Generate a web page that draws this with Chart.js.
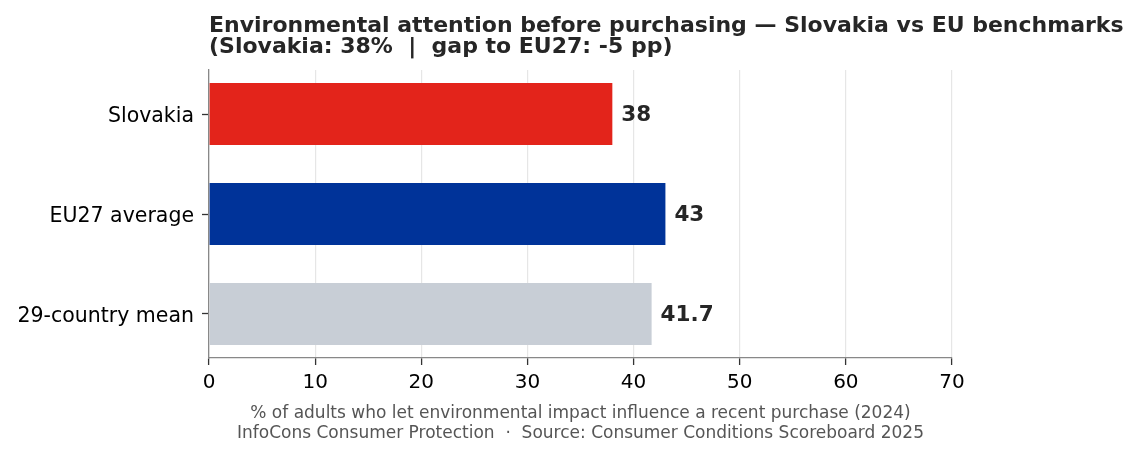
<!DOCTYPE html>
<html>
<head>
<meta charset="utf-8">
<script src="https://cdn.jsdelivr.net/npm/chart.js@4.4.1/dist/chart.umd.min.js"></script>
<style>
html,body{margin:0;padding:0;background:#fff;}
#wrap{width:1136px;height:456px;position:relative;}
</style>
</head>
<body>
<div id="wrap"><canvas id="c"></canvas></div>
<script>
const categories = ["Slovakia", "EU27 average", "29-country mean"];
const values = [38, 43, 41.7];
const barColors = ["#e3241b", "#003399", "#c8ced6"];
const xTicks = [0, 10, 20, 30, 40, 50, 60, 70];
const titleLines = [
  "Environmental attention before purchasing \u2014 Slovakia vs EU benchmarks",
  "(Slovakia: 38%  |  gap to EU27: -5 pp)"
];
const xAxisTitle = [
  "% of adults who let environmental impact influence a recent purchase (2024)",
  "InfoCons Consumer Protection  \u00b7  Source: Consumer Conditions Scoreboard 2025"
];

const FONT = "'DejaVu Sans', sans-serif";

const labelPlugin = {
  id: 'labels',
  afterDatasetsDraw(chart) {
    const ctx = chart.ctx;
    const meta = chart.getDatasetMeta(0);
    ctx.save();
    ctx.font = "bold 21.5px " + FONT;
    ctx.fillStyle = "#262626";
    ctx.textAlign = "left";
    ctx.textBaseline = "middle";
    meta.data.forEach((bar, i) => {
      ctx.fillText(String(values[i]), bar.x + 9, bar.y + 1);
    });
    ctx.restore();
  },
  afterDraw(chart) {
    const ctx = chart.ctx;
    ctx.save();
    ctx.font = "bold 22px " + FONT;
    ctx.fillStyle = "#262626";
    ctx.textAlign = "left";
    ctx.textBaseline = "alphabetic";
    ctx.fillText(titleLines[0], chart.chartArea.left, 31.5);
    ctx.fillText(titleLines[1], chart.chartArea.left, 52.5);
    ctx.restore();
  }
};

new Chart(document.getElementById('c'), {
  type: 'bar',
  data: {
    datasets: [{
      data: values.map((v, i) => ({ x: v, y: i })),
      backgroundColor: barColors,
      borderWidth: 0,
      categoryPercentage: 0.62,
      barPercentage: 1.0
    }]
  },
  options: {
    indexAxis: 'y',
    responsive: true,
    maintainAspectRatio: false,
    animation: false,
    layout: { padding: { left: 0, right: 184, top: 70, bottom: 0 } },
    plugins: { legend: { display: false }, tooltip: { enabled: false }, title: { display: false } },
    scales: {
      x: {
        type: 'linear',
        min: 0, max: 70,
        afterFit(s) { s.height = 98; },
        afterBuildTicks(s) { s.ticks = xTicks.map(v => ({ value: v })); },
        ticks: { font: { family: FONT, size: 20 }, color: '#000', padding: 6 },
        grid: { color: '#e6e6e6', lineWidth: 1.2, tickColor: '#333', tickLength: 7, tickWidth: 1.3 },
        border: { color: '#888', width: 1.3 },
        title: {
          display: true,
          text: xAxisTitle,
          font: { family: FONT, size: 17 },
          color: '#555',
          padding: { top: 0, bottom: 12 }
        }
      },
      y: {
        type: 'linear',
        reverse: true,
        offset: false,
        min: -0.441, max: 2.441,
        afterFit(s) { s.width = 209; },
        afterBuildTicks(s) { s.ticks = categories.map((c, i) => ({ value: i })); },
        ticks: {
          font: { family: FONT, size: 20.5 },
          color: '#000',
          padding: 8,
          labelOffset: 3,
          callback: (v) => categories[v] ?? ''
        },
        grid: { offset: false, drawOnChartArea: false, tickColor: '#333', tickLength: 7, tickWidth: 1.3 },
        border: { color: '#888', width: 1.3 }
      }
    }
  },
  plugins: [labelPlugin]
});
</script>
</body>
</html>
